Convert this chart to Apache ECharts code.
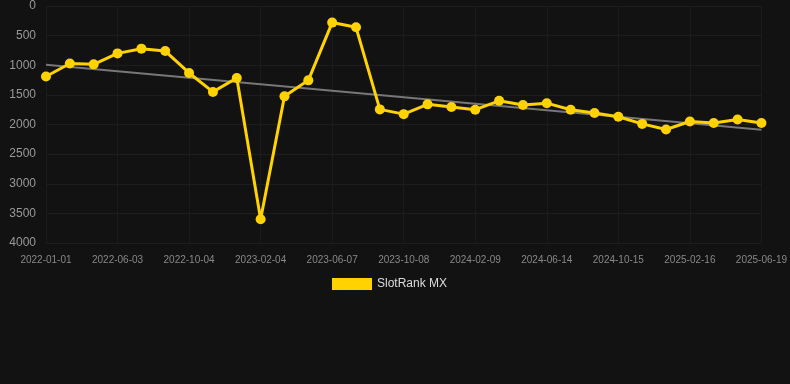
<!DOCTYPE html>
<html>
<head>
<meta charset="utf-8">
<script src="https://cdn.jsdelivr.net/npm/echarts@6/dist/echarts.min.js"></script>
<style>
html,body{margin:0;padding:0;background:#121212;}
#chart{width:790px;height:384px;}
</style>
</head>
<body>
<div id="chart"></div>
<script>
// dates on the category axis (only every third one is labelled)
var dates = [
	'2022-01-01','2022-02-21','2022-04-13','2022-06-03','2022-07-14','2022-08-24',
	'2022-10-04','2022-11-14','2022-12-25','2023-02-04','2023-03-17','2023-04-27',
	'2023-06-07','2023-07-18','2023-08-28','2023-10-08','2023-11-18','2023-12-29',
	'2024-02-09','2024-03-21','2024-05-02','2024-06-14','2024-07-25','2024-09-04',
	'2024-10-15','2024-11-25','2025-01-05','2025-02-16','2025-03-29','2025-05-09',
	'2025-06-19'
];
// rank values
var rankMX = [
	1190, 970, 985, 800, 720, 760,
	1130, 1450, 1215, 3600, 1525, 1255,
	280, 360, 1745, 1825, 1660, 1705,
	1750, 1600, 1670, 1640, 1750, 1805,
	1870, 1990, 2085, 1950, 1975, 1915,
	1975
];
// trend line, start and end
var trendStart = 990;
var trendEnd = 2090;

var chart = echarts.init(document.getElementById('chart'));

var option = {
	backgroundColor: '#121212',
	animation: false,
	grid: {
		left: 46,
		right: 28,
		top: 6,
		bottom: 141
	},
	legend: {
		data: ['SlotRank MX'],
		top: 273,
		left: 327,
		itemWidth: 40,
		itemHeight: 12,
		icon: 'rect',
		textStyle: {
			color: '#dddddd',
			fontSize: 12,
			fontFamily: 'Liberation Sans, Arial, sans-serif'
		}
	},
	xAxis: {
		type: 'category',
		boundaryGap: false,
		data: dates,
		axisLine: { show: false },
		axisTick: { show: false },
		axisLabel: {
			interval: 2,
			color: '#888888',
			fontSize: 10,
			margin: 12,
			fontFamily: 'Liberation Sans, Arial, sans-serif'
		},
		splitLine: {
			show: true,
			interval: 2,
			lineStyle: { color: '#1b1b1b', width: 1 }
		}
	},
	yAxis: {
		type: 'value',
		inverse: true,
		min: 0,
		max: 4000,
		interval: 500,
		axisLine: { show: false },
		axisTick: { show: false },
		axisLabel: {
			color: '#999999',
			fontSize: 12,
			margin: 10,
			fontFamily: 'Liberation Sans, Arial, sans-serif',
			formatter: function (v) { return String(v); }
		},
		splitLine: {
			lineStyle: { color: '#1d1d1d', width: 1 }
		}
	},
	series: [{
		name: 'trend',
		type: 'line',
		data: [[dates[0], trendStart], [dates[dates.length - 1], trendEnd]],
		symbol: 'none',
		lineStyle: { color: '#777777', width: 2 },
		z: 1
	}, {
		name: 'SlotRank MX',
		type: 'line',
		data: rankMX,
		symbol: 'circle',
		symbolSize: 10,
		itemStyle: { color: '#ffd200' },
		lineStyle: { color: '#ffd200', width: 3 },
		z: 2
	}]
};
chart.setOption(option);
</script>
</body>
</html>
